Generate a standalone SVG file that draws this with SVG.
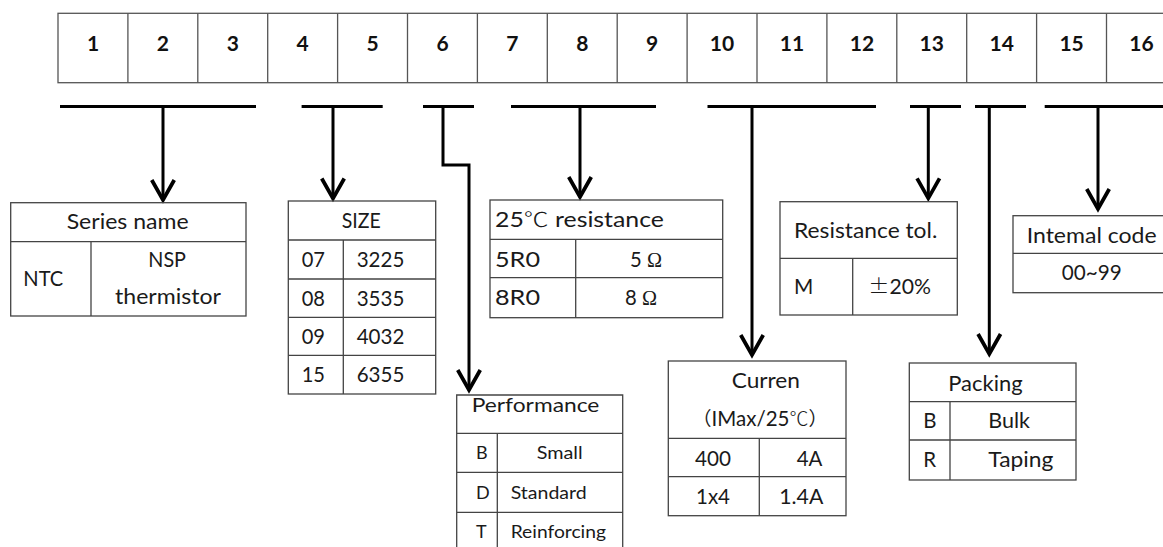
<svg xmlns="http://www.w3.org/2000/svg" width="1163" height="547" viewBox="0 0 1163 547">
<defs>
<style>
.bg{fill:#fff}
.tb{fill:none;stroke:#444;stroke-width:1.3}
.hd{fill:none;stroke:#555;stroke-width:1.3}
.num{font-family:Lato,"Liberation Sans",sans-serif;font-weight:bold;font-size:21px;fill:#111;text-anchor:middle}
.t{font-family:Lato,"Noto Sans CJK SC","Liberation Sans",sans-serif;font-size:20.5px;fill:#1a1a1a}
.s{font-family:Lato,"Noto Sans CJK SC","Liberation Sans",sans-serif;font-size:18px;fill:#1a1a1a}
.cj{font-family:"Noto Sans CJK SC",sans-serif;font-weight:300}
.cs{font-family:"Noto Sans CJK SC",sans-serif;font-size:19px}
.sf{font-family:"Liberation Serif",serif}
.cn{fill:none;stroke:#000;stroke-width:3}
</style>
<marker id="ah" markerUnits="userSpaceOnUse" orient="auto" refX="0" refY="0" markerWidth="30" markerHeight="30" viewBox="-20 -12 24 24" overflow="visible">
<path d="M-16,-9 L0,0 L-16,9" fill="none" stroke="#000" stroke-width="3"/>
</marker>
</defs>
<rect class="bg" x="0" y="0" width="1163" height="547"/>

<g id="header">
<rect class="hd" x="58" y="13.3" width="1118.4" height="69.4"/>
<path class="hd" d="M127.9,13.3V82.7M197.8,13.3V82.7M267.7,13.3V82.7M337.6,13.3V82.7M407.5,13.3V82.7M477.4,13.3V82.7M547.3,13.3V82.7M617.2,13.3V82.7M687.1,13.3V82.7M757,13.3V82.7M826.9,13.3V82.7M896.8,13.3V82.7M966.7,13.3V82.7M1036.6,13.3V82.7M1106.5,13.3V82.7"/>
<text class="num" x="93" y="51">1</text>
<text class="num" x="162.9" y="51">2</text>
<text class="num" x="232.8" y="51">3</text>
<text class="num" x="302.7" y="51">4</text>
<text class="num" x="372.6" y="51">5</text>
<text class="num" x="442.5" y="51">6</text>
<text class="num" x="512.4" y="51">7</text>
<text class="num" x="582.3" y="51">8</text>
<text class="num" x="652.2" y="51">9</text>
<text class="num" x="722" y="51">10</text>
<text class="num" x="792" y="51">11</text>
<text class="num" x="861.9" y="51">12</text>
<text class="num" x="931.8" y="51">13</text>
<text class="num" x="1001.7" y="51">14</text>
<text class="num" x="1071.6" y="51">15</text>
<text class="num" x="1141.5" y="51">16</text>
</g>

<g id="connectors">
<path class="cn" d="M60,106.5H256M301.6,106.5H382.7M423,106.5H474M511,106.5H656M707.5,106.5H876M910,106.5H961M975,106.5H1026M1044.7,106.5H1170"/>
<path class="cn" d="M163,106.5V200" marker-end="url(#ah)"/>
<path class="cn" d="M333,106.5V198.5" marker-end="url(#ah)"/>
<path class="cn" d="M443,106.5V165H469V390" marker-end="url(#ah)"/>
<path class="cn" d="M580,106.5V197" marker-end="url(#ah)"/>
<path class="cn" d="M752,106.5V355" marker-end="url(#ah)"/>
<path class="cn" d="M928.3,106.5V198.3" marker-end="url(#ah)"/>
<path class="cn" d="M989.3,106.5V354" marker-end="url(#ah)"/>
<path class="cn" d="M1098,106.5V209" marker-end="url(#ah)"/>
</g>

<g id="series">
<rect class="tb" x="10.7" y="202.7" width="235.3" height="113.3"/>
<path class="tb" d="M10.7,241.7H246M91,241.7V316"/>
<text class="t" x="66.7" y="229" textLength="122" lengthAdjust="spacingAndGlyphs">Series name</text>
<text class="t" x="23.3" y="286" textLength="40" lengthAdjust="spacingAndGlyphs">NTC</text>
<text class="t" x="148.3" y="267" textLength="37.7" lengthAdjust="spacingAndGlyphs">NSP</text>
<text class="t" x="115" y="304" textLength="106" lengthAdjust="spacingAndGlyphs">thermistor</text>
</g>

<g id="size">
<rect class="tb" x="288.3" y="201" width="147.4" height="193"/>
<path class="tb" d="M288.3,240H435.7M288.3,279H435.7M288.3,317.3H435.7M288.3,355.3H435.7M343.3,240V394"/>
<text class="t" x="341.7" y="228" textLength="39" lengthAdjust="spacingAndGlyphs">SIZE</text>
<text class="t" x="301.7" y="267" textLength="23.3" lengthAdjust="spacingAndGlyphs">07</text><text class="t" x="356.7" y="267" textLength="47.7" lengthAdjust="spacingAndGlyphs">3225</text>
<text class="t" x="301.7" y="305.5" textLength="23.3" lengthAdjust="spacingAndGlyphs">08</text><text class="t" x="356.7" y="305.5" textLength="47.7" lengthAdjust="spacingAndGlyphs">3535</text>
<text class="t" x="301.7" y="344" textLength="23.3" lengthAdjust="spacingAndGlyphs">09</text><text class="t" x="356.7" y="344" textLength="47.7" lengthAdjust="spacingAndGlyphs">4032</text>
<text class="t" x="301.7" y="382" textLength="23.3" lengthAdjust="spacingAndGlyphs">15</text><text class="t" x="356.7" y="382" textLength="47.7" lengthAdjust="spacingAndGlyphs">6355</text>
</g>

<g id="resistance">
<rect class="tb" x="490" y="200" width="232.7" height="117.7"/>
<path class="tb" d="M490,239.3H722.7M490,277.7H722.7M575.7,239.3V317.7"/>
<text class="t" x="495" y="227" textLength="169" lengthAdjust="spacingAndGlyphs">25<tspan class="cj">℃</tspan>  resistance</text>
<text class="t" x="495" y="267" textLength="45" lengthAdjust="spacingAndGlyphs">5R0</text>
<text class="t" x="630" y="267" textLength="32" lengthAdjust="spacingAndGlyphs">5 <tspan class="sf">Ω</tspan></text>
<text class="t" x="495" y="305" textLength="45" lengthAdjust="spacingAndGlyphs">8R0</text>
<text class="t" x="625" y="305" textLength="32" lengthAdjust="spacingAndGlyphs">8 <tspan class="sf">Ω</tspan></text>
</g>

<g id="performance">
<path class="tb" d="M456.7,552V395H622.7V552M456.7,433.3H622.7M456.7,472.3H622.7M456.7,512.3H622.7M497.3,433.3V552"/>
<text class="t" x="471.7" y="411.7" style="font-size:19px" textLength="127.7" lengthAdjust="spacingAndGlyphs">Performance</text>
<text class="s" x="476" y="459">B</text><text class="s" x="536.7" y="459" textLength="46" lengthAdjust="spacingAndGlyphs">Small</text>
<text class="s" x="476" y="499">D</text><text class="s" x="510.7" y="499" textLength="76" lengthAdjust="spacingAndGlyphs">Standard</text>
<text class="s" x="476" y="538">T</text><text class="s" x="510.7" y="538" textLength="95.3" lengthAdjust="spacingAndGlyphs">Reinforcing</text>
</g>

<g id="current">
<rect class="tb" x="668.3" y="361" width="177.7" height="154.7"/>
<path class="tb" d="M668.3,438.3H846M668.3,476.7H846M759.3,438.3V515.7"/>
<text class="t" x="731.7" y="388" textLength="68.3" lengthAdjust="spacingAndGlyphs">Curren</text>
<text class="t" x="760" y="426" text-anchor="middle"><tspan class="cs">（</tspan>IMax/25<tspan class="cs" font-weight="300">℃</tspan><tspan class="cs">）</tspan></text>
<text class="t" x="695" y="466" textLength="36" lengthAdjust="spacingAndGlyphs">400</text><text class="t" x="796.7" y="466" textLength="25.7" lengthAdjust="spacingAndGlyphs">4A</text>
<text class="t" x="696" y="503.5" textLength="34" lengthAdjust="spacingAndGlyphs">1x4</text><text class="t" x="779.3" y="503.5" textLength="44" lengthAdjust="spacingAndGlyphs">1.4A</text>
</g>

<g id="tolerance">
<rect class="tb" x="780" y="201.7" width="177.3" height="113.3"/>
<path class="tb" d="M780,258.3H957.3M852.7,258.3V315"/>
<text class="t" x="794" y="238" textLength="143.3" lengthAdjust="spacingAndGlyphs">Resistance tol.</text>
<text class="t" x="794" y="294" textLength="19.3" lengthAdjust="spacingAndGlyphs">M</text>
<text class="t" x="868.3" y="294" textLength="62.7" lengthAdjust="spacingAndGlyphs"><tspan class="cj">±</tspan>20%</text>
</g>

<g id="packing">
<rect class="tb" x="909.3" y="363" width="166.7" height="117"/>
<path class="tb" d="M909.3,401.7H1076M909.3,440H1076M950,401.7V480"/>
<text class="t" x="948.3" y="391" textLength="74.3" lengthAdjust="spacingAndGlyphs">Packing</text>
<text class="t" x="923.3" y="428">B</text><text class="t" x="988.3" y="428" textLength="41.7" lengthAdjust="spacingAndGlyphs">Bulk</text>
<text class="t" x="923.3" y="467">R</text><text class="t" x="988.3" y="467" textLength="65" lengthAdjust="spacingAndGlyphs">Taping</text>
</g>

<g id="internal">
<rect class="tb" x="1013" y="215.7" width="160" height="77"/>
<path class="tb" d="M1013,253.3H1173"/>
<text class="t" x="1026.7" y="243" textLength="130" lengthAdjust="spacingAndGlyphs">Intemal code</text>
<text class="t" x="1061.7" y="280" textLength="60" lengthAdjust="spacingAndGlyphs">00~99</text>
</g>
</svg>
